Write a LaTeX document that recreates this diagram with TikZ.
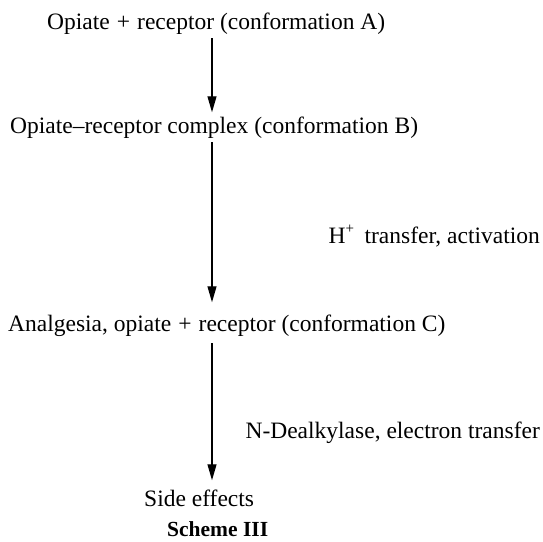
\documentclass[tikz,border=0pt]{standalone}
\usepackage{fontspec}
\setmainfont{Liberation Serif}
\usetikzlibrary{arrows.meta}
\newcommand{\plussign}{\hspace{0.3em}+\hspace{0.3em}}
\begin{document}
\begin{tikzpicture}[x=1pt,y=-1pt,
  lbl/.style={inner sep=3pt,font=\fontsize{23.5}{28}\selectfont},
  arr/.style={line width=1.2pt,-{Triangle[length=16pt,width=9pt]}}]
\useasboundingbox (0,0) rectangle (543,541);
\node[lbl,anchor=base west] (A) at (44,29) {Opiate\plussign receptor (conformation A)};
\node[lbl,anchor=base west] (B) at (7,133) {Opiate--receptor complex (conformation B)};
\node[lbl,anchor=base west] (C) at (5,331) {Analgesia, opiate\plussign receptor (conformation C)};
\node[lbl,anchor=base east] (H) at (543,243) {H\raisebox{0.4em}{\fontsize{15}{15}\selectfont +}\hspace{0.45em}transfer, activation};
\node[lbl,anchor=base east] (N) at (543,438) {N-Dealkylase, electron transfer};
\node[lbl,anchor=base west] (S) at (141,506) {Side effects};
\node[lbl,anchor=base west,font=\fontsize{21.5}{26}\selectfont\bfseries] (T) at (164,536) {Scheme III};
\coordinate (ax) at (212,0);
\draw[arr,shorten <=1pt,shorten >=1pt] (A.south -| ax) -- (B.north -| ax);
\draw[arr,shorten <=1pt,shorten >=9pt] (B.south -| ax) -- (C.north -| ax);
\draw[arr,shorten <=4pt,shorten >=6pt] (C.south -| ax) -- (S.north -| ax);
\end{tikzpicture}
\end{document}
